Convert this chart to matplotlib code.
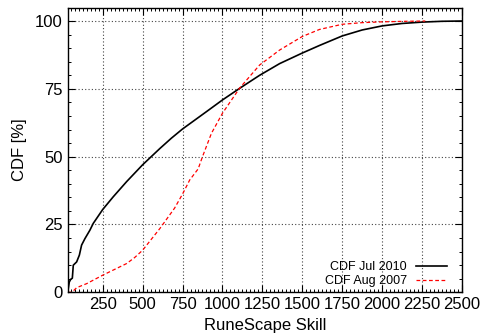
import matplotlib
matplotlib.use("Agg")
import matplotlib.pyplot as plt
from matplotlib.ticker import MultipleLocator

plt.rcParams["font.family"] = ["Liberation Sans", "DejaVu Sans"]

# CDF of RuneScape total skill, Jul 2010
skill_2010 = [31, 41, 50, 60, 66, 87, 104, 118, 139, 170, 191, 250, 316, 400,
              500, 608, 680, 750, 900, 1000, 1108, 1233, 1358, 1500, 1608,
              1750, 1875, 2000, 2125, 2250, 2375, 2496]
cdf_2010 = [0, 3.8, 4.8, 5.2, 10.0, 11.2, 13.7, 17.4, 19.8, 22.9, 25.4, 30.5,
            35.2, 40.8, 47.0, 53.0, 56.8, 60.2, 66.6, 70.9, 75.2, 80.0, 84.3,
            88.2, 91.0, 94.5, 96.7, 98.2, 99.1, 99.6, 99.9, 100]

# CDF of RuneScape total skill, Aug 2007
skill_2007 = [32, 50, 66, 87, 150, 250, 400, 450, 500, 608, 700, 750, 795,
              848, 875, 931, 1000, 1108, 1233, 1358, 1500, 1608, 1750, 1875,
              2000, 2150, 2270]
cdf_2007 = [0, 0, 0.5, 1.7, 3.2, 6.3, 10.6, 12.8, 15.5, 23.5, 31.0, 36.2,
            41.4, 45.5, 50.0, 58.6, 66.0, 75.3, 83.8, 89.3, 94.3, 96.9, 98.8,
            99.4, 99.7, 99.9, 100]

fig = plt.figure(figsize=(4.82, 3.35), dpi=100)
ax = fig.add_axes([67.7 / 482, 1 - 292.3 / 335, (462 - 67.7) / 482, (292.3 - 8) / 335])

ax.plot(skill_2010, cdf_2010, color="black", lw=1.2, label="CDF Jul 2010")
ax.plot(skill_2007, cdf_2007, color="red", lw=0.9, ls=(0, (3, 2)), label="CDF Aug 2007")

ax.set_xlim(31, 2500)
ax.set_ylim(0, 104.8)
ax.xaxis.set_major_locator(MultipleLocator(250))
ax.xaxis.set_minor_locator(MultipleLocator(25))
ax.yaxis.set_major_locator(MultipleLocator(25))
ax.yaxis.set_minor_locator(MultipleLocator(5))
ax.tick_params(which="both", direction="in", top=True, right=True, labelsize=12)
ax.tick_params(which="major", length=5, width=0.8)
ax.tick_params(which="minor", length=2.5, width=0.7)
ax.grid(True, which="major", color="#444444", ls=(0, (1, 2)), lw=0.8)
for s in ax.spines.values():
    s.set_linewidth(1.0)

ax.set_xlabel("RuneScape Skill", fontsize=12, labelpad=4)
ax.set_ylabel("CDF [%]", fontsize=12, labelpad=6)

ax.legend(loc="lower right", frameon=False, markerfirst=False, fontsize=9,
          handlelength=2.5, handletextpad=0.7, labelspacing=0.2,
          borderpad=0, borderaxespad=0, bbox_to_anchor=(0.962, 0.017))

fig.savefig("out.png", dpi=100)
